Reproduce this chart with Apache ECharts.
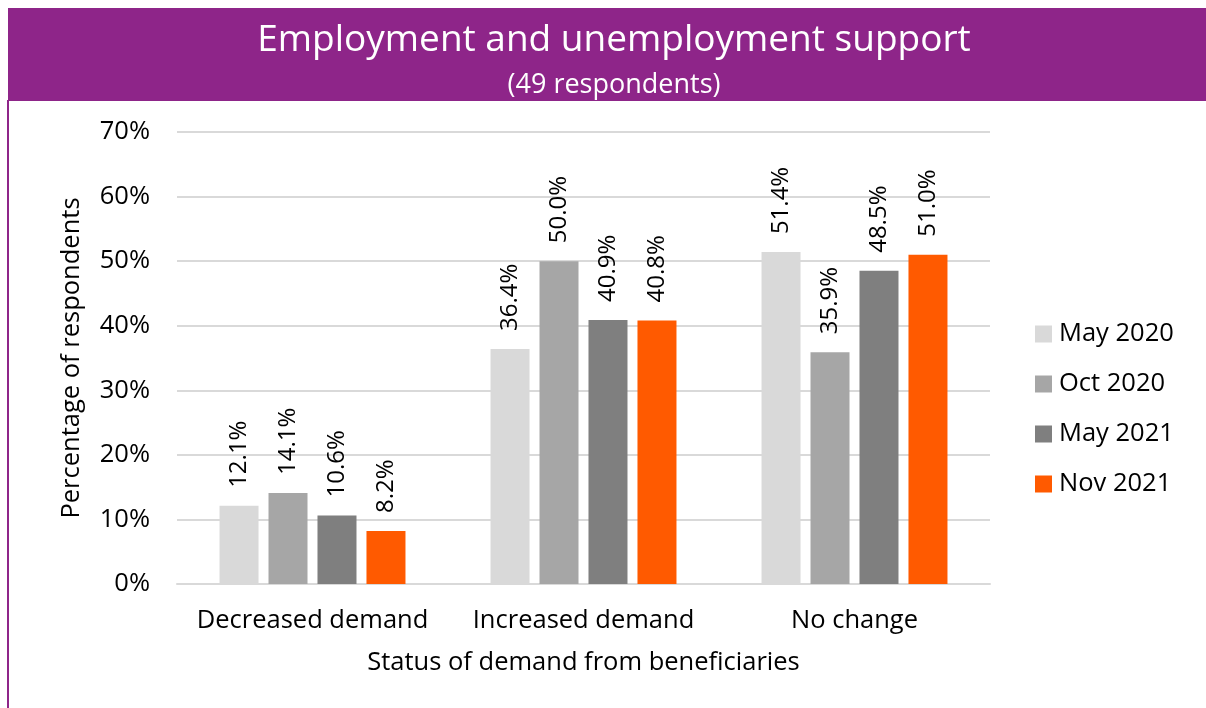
<!DOCTYPE html>
<html>
<head>
<meta charset="utf-8">
<script src="https://cdn.jsdelivr.net/npm/echarts@6/dist/echarts.min.js"></script>
<style>
  html, body { margin: 0; padding: 0; background: #fff; }
  #chart { width: 1206px; height: 708px; }
</style>
</head>
<body>
<div id="chart"></div>
<script>
// Demand categories and survey waves
const categories = ['Decreased demand', 'Increased demand', 'No change'];
const seriesNames = ['May 2020', 'Oct 2020', 'May 2021', 'Nov 2021'];
const may2020 = [12.1, 36.4, 51.4];
const oct2020 = [14.1, 50.0, 35.9];
const may2021 = [10.6, 40.9, 48.5];
const nov2021 = [8.2, 40.8, 51.0];
const seriesColors = ['#D9D9D9', '#A6A6A6', '#7F7F7F', '#FF5A00'];

const titleText = 'Employment and unemployment support';
const subtitleText = '(49 respondents)';
const yAxisName = 'Percentage of respondents';
const xAxisName = 'Status of demand from beneficiaries';

const FONT = 'Open Sans, Lato, sans-serif';
const PURPLE = '#8E2589';
const FS = 25.5;

const values = [may2020, oct2020, may2021, nov2021];

const chart = echarts.init(document.getElementById('chart'), null, { renderer: 'canvas' });

const option = {
  animation: false,
  backgroundColor: '#ffffff',
  textStyle: { fontFamily: FONT },
  graphic: [
    // header band
    { type: 'rect', left: 8, top: 8, shape: { width: 1198, height: 93 }, style: { fill: PURPLE }, z: 0 },
    // left border
    { type: 'rect', left: 7, top: 100, shape: { width: 2, height: 608 }, style: { fill: PURPLE }, z: 0 }
  ],
  title: [
    { text: titleText, left: 609, top: 17, textAlign: 'center',
      textStyle: { color: '#fff', fontSize: 37, fontWeight: 'normal', fontFamily: FONT } },
    { text: subtitleText, left: 609, top: 67, textAlign: 'center',
      textStyle: { color: '#fff', fontSize: 27, fontWeight: 'normal', fontFamily: FONT } }
  ],
  legend: {
    orient: 'vertical',
    left: 1030,
    top: 316,
    itemWidth: 17,
    itemHeight: 17,
    itemGap: 24,
    icon: 'rect',
    data: seriesNames,
    textStyle: { fontSize: FS, color: '#000', fontFamily: FONT, padding: [0, 0, 0, 2] }
  },
  grid: { left: 177, right: 216, top: 132, bottom: 124, containLabel: false },
  xAxis: {
    type: 'category',
    data: categories,
    name: xAxisName,
    nameLocation: 'middle',
    nameGap: 66,
    nameTextStyle: { fontSize: FS, color: '#000', fontFamily: FONT },
    axisLine: { lineStyle: { color: '#D9D9D9', width: 2 } },
    axisTick: { show: false },
    axisLabel: { fontSize: FS, color: '#000', margin: 24, interval: 0, fontFamily: FONT }
  },
  yAxis: {
    type: 'value',
    min: 0,
    max: 70,
    interval: 10,
    name: yAxisName,
    nameLocation: 'middle',
    nameGap: 92,
    nameTextStyle: { fontSize: FS, color: '#000', fontFamily: FONT },
    axisLine: { show: false },
    axisTick: { show: false },
    axisLabel: { fontSize: FS, color: '#000', margin: 27, formatter: v => v + '%', fontFamily: FONT },
    splitLine: { lineStyle: { color: '#D9D9D9', width: 2 } }
  },
  series: seriesNames.map((name, i) => ({
    name: name,
    type: 'bar',
    data: values[i],
    barWidth: 39,
    barGap: '25.6%',
    itemStyle: { color: seriesColors[i] },
    label: {
      show: true,
      position: 'top',
      rotate: 90,
      align: 'left',
      verticalAlign: 'middle',
      distance: 18,
      fontSize: 24,
      color: '#000',
      fontFamily: FONT,
      formatter: p => p.value.toFixed(1) + '%'
    }
  }))
};

chart.setOption(option);
</script>
</body>
</html>
